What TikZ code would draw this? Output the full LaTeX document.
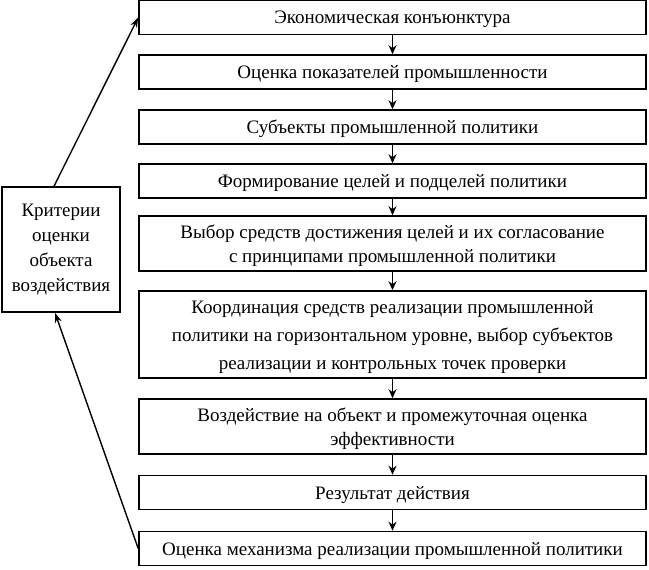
\documentclass[tikz,border=0pt]{standalone}
\usepackage{fontspec}
\setmainfont{Liberation Serif}
\usetikzlibrary{arrows.meta}

\tikzset{
  stage/.style={draw, line width=1.6pt, minimum width=507pt, minimum height=#1,
    align=center, inner sep=0pt, text depth=0pt, font=\fontsize{19}{24}\selectfont},
  crit/.style={draw, line width=1.6pt, minimum width=118pt, minimum height=125pt,
    align=center, inner sep=0pt, font=\fontsize{19}{25}\selectfont},
  flow/.style={line width=1.2pt, -{Stealth[length=9pt,width=8pt]}},
  back/.style={line width=1.4pt, -{Stealth[length=10pt,width=7pt]}}
}

\begin{document}
\begin{tikzpicture}[x=1pt,y=-1pt]
  \useasboundingbox (0,0) rectangle (649,570);

  %% stages
  \node[stage=34pt] (s1) at (392.5,17.5) {Экономическая конъюнктура};
  \node[stage=34pt] (s2) at (392.5,72) {Оценка показателей промышленности};
  \node[stage=34pt] (s3) at (392.5,127) {Субъекты промышленной политики};
  \node[stage=34pt] (s4) at (392.5,181) {Формирование целей и подцелей политики};
  \node[stage=55pt] (s5) at (392.5,243.5) {Выбор средств достижения целей и их согласование\\
    с принципами промышленной политики};
  \node[stage=87pt, font=\fontsize{19}{28}\selectfont] (s6) at (392.5,334.5)
    {Координация средств реализации промышленной\\
    политики на горизонтальном уровне, выбор субъектов\\
    реализации и контрольных точек проверки};
  \node[stage=55pt] (s7) at (392.5,426.5) {Воздействие на объект и промежуточная оценка\\
    эффективности};
  \node[stage=34pt] (s8) at (392.5,492.5) {Результат действия};
  \node[stage=34pt] (s9) at (392.5,548.5) {Оценка механизма реализации промышленной политики};

  %% criteria
  \node[crit] (cr) at (61,249.5) {Критерии\\ оценки\\ объекта\\ воздействия};

  \foreach \a/\b in {s1/s2,s2/s3,s3/s4,s4/s5,s5/s6,s6/s7,s7/s8,s8/s9}
    \draw[flow] (\a) -- (\b);

  \draw[back] ([xshift=-7pt]cr.north) -- (s1.west);
  \draw[back] (s9.west) -- ([xshift=-6pt]cr.south);
\end{tikzpicture}
\end{document}
